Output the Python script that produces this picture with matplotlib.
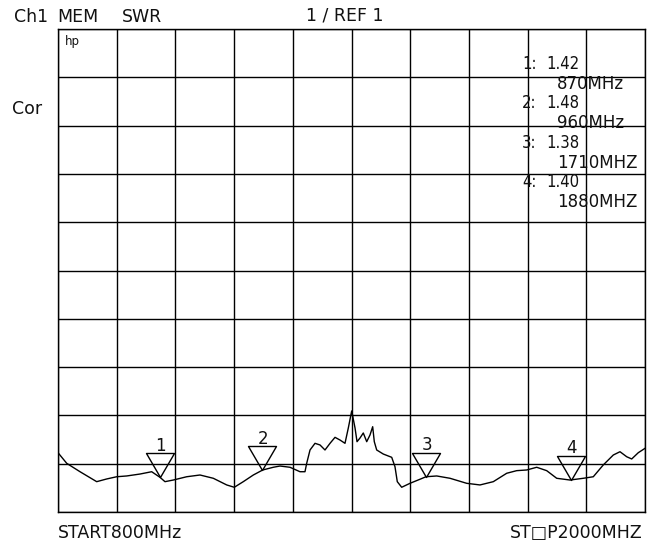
import numpy as np
import matplotlib
matplotlib.use("Agg")
import matplotlib.pyplot as plt
from matplotlib.path import Path

# ---- data ----
freq_mhz = [800.0, 817.8, 845.0, 879.1, 899.6, 920.0, 940.4, 967.6, 991.5, 1008.5,
            1018.7, 1035.7, 1063.1, 1090.3, 1117.5, 1144.9, 1160.4, 1178.8, 1199.3, 1218.5,
            1240.1, 1253.8, 1274.3, 1294.7, 1304.9, 1308.4, 1315.2, 1325.4, 1335.6, 1345.8,
            1356.1, 1366.3, 1376.5, 1386.7, 1393.5, 1400.4, 1407.2, 1411.3, 1417.4, 1424.1,
            1431.1, 1437.8, 1443.3, 1446.6, 1451.5, 1465.0, 1482.2, 1488.9, 1493.6, 1502.6,
            1519.6, 1540.0, 1552.3, 1574.2, 1601.4, 1635.5, 1662.7, 1689.9, 1717.3, 1737.7,
            1758.2, 1778.6, 1799.0, 1819.5, 1846.7, 1873.9, 1894.3, 1914.7, 1935.2, 1948.9,
            1962.6, 1972.8, 1986.3, 2000.0]
swr = [1.614, 1.504, 1.417, 1.314, 1.342, 1.365, 1.373, 1.393, 1.417, 1.359,
       1.314, 1.331, 1.365, 1.383, 1.349, 1.280, 1.256, 1.314, 1.383, 1.435,
       1.463, 1.476, 1.463, 1.417, 1.417, 1.504, 1.642, 1.711, 1.694, 1.642,
       1.711, 1.773, 1.745, 1.711, 1.870, 2.046, 1.870, 1.728, 1.766, 1.818,
       1.728, 1.797, 1.883, 1.728, 1.642, 1.600, 1.566, 1.469, 1.314, 1.256,
       1.297, 1.339, 1.365, 1.373, 1.349, 1.297, 1.280, 1.314, 1.401, 1.428,
       1.435, 1.463, 1.428, 1.349, 1.331, 1.349, 1.365, 1.487, 1.590, 1.624,
       1.572, 1.549, 1.614, 1.659]

marker_ids = ["1", "2", "3", "4"]
marker_pos_mhz = [1008.5, 1217.7, 1552.3, 1849.3]
marker_values = ["1.42", "1.48", "1.38", "1.40"]
marker_freq_labels = ["870MHz", "960MHz", "1710MHZ", "1880MHZ"]

start_mhz, stop_mhz = 800, 2000
ref_swr, top_swr = 1.0, 6.0

W, H = 651, 545
fig = plt.figure(figsize=(W / 100, H / 100), dpi=100)
fig.patch.set_facecolor("white")
ax = fig.add_axes([58 / W, 1 - 512 / H, 587 / W, 483 / H])
ax.set_xlim(start_mhz, stop_mhz)
ax.set_ylim(ref_swr, top_swr)
ax.set_xticks(np.linspace(start_mhz, stop_mhz, 11))
ax.set_yticks(np.linspace(ref_swr, top_swr, 11))
ax.tick_params(length=0, labelbottom=False, labelleft=False)
ax.grid(True, color="black", lw=1.0)
for s in ax.spines.values():
    s.set_color("black")
    s.set_linewidth(1.0)

ax.plot(freq_mhz, swr, color="black", lw=1.0, zorder=3, solid_joinstyle="round")

# markers: downward triangles with apex on the trace
tri = Path([(-14, 24), (14, 24), (0, 0), (-14, 24)],
           [Path.MOVETO, Path.LINETO, Path.LINETO, Path.CLOSEPOLY])
mk_y = np.interp(marker_pos_mhz, freq_mhz, swr)
ax.plot(marker_pos_mhz, mk_y, linestyle="none", marker=tri, markersize=34.56,
        mfc="none", mec="black", mew=1.0, zorder=4, clip_on=False)
for mid, fx, fy in zip(marker_ids, marker_pos_mhz, mk_y):
    ax.annotate(mid, xy=(fx, fy), xytext=(0.5, 31.5 * 0.72), textcoords="offset points",
                ha="center", va="center", fontsize=12, color="#111111")

FS = 12.5
def ftext(x, y, s, **kw):
    kw.setdefault("fontsize", FS)
    kw.setdefault("va", "center")
    fig.text(x / W, 1 - y / H, s, color="#111111", **kw)

ftext(14, 17, "Ch1")
ftext(57, 17, "MEM")
ftext(122, 17, "SWR")
ftext(345, 16, "1 / REF 1", ha="center")
ftext(12, 109, "Cor")
ftext(65, 42, "hp", fontsize=8.5)
ftext(58, 533, "START800MHz")
ftext(643, 533, "ST\u25a1P2000MHZ", ha="right")

for i, (mid, val, fl) in enumerate(zip(marker_ids, marker_values, marker_freq_labels)):
    y0 = 64 + 39.4 * i
    ftext(522, y0, mid + ":", fontsize=12, fontstretch="condensed")
    ftext(546, y0, val, fontsize=12, fontstretch="condensed")
    ftext(557, y0 + 20, fl, fontsize=12)

fig.savefig("out.png", dpi=100)
